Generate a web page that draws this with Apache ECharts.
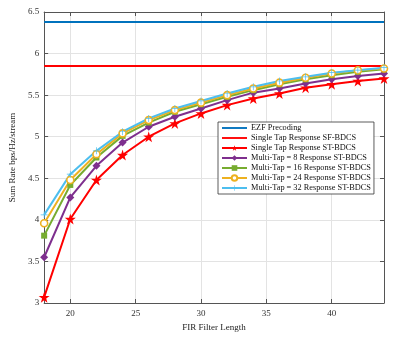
<!DOCTYPE html>
<html>
<head>
<meta charset="utf-8">
<script src="https://cdn.jsdelivr.net/npm/echarts@6/dist/echarts.min.js"></script>
<style>
  html, body { margin: 0; padding: 0; background: #fff; }
  #chart { width: 415px; height: 344px; }
</style>
</head>
<body>
<div id="chart"></div>
<script>
// filter lengths
const filterLen = [18, 20, 22, 24, 26, 28, 30, 32, 34, 36, 38, 40, 42, 44];
const xTicks = [20, 25, 30, 35, 40];

const ezf = 6.38;
const singleSF = 5.85;
const singleST = [3.07, 4.01, 4.48, 4.78, 5.0, 5.16, 5.28, 5.38, 5.46, 5.52, 5.59, 5.63, 5.67, 5.70];
const multi8 = [3.55, 4.27, 4.65, 4.93, 5.12, 5.24, 5.34, 5.44, 5.53, 5.58, 5.64, 5.69, 5.73, 5.76];
const multi16 = [3.81, 4.42, 4.75, 5.01, 5.17, 5.30, 5.39, 5.48, 5.56, 5.63, 5.69, 5.74, 5.78, 5.81];
const multi24 = [3.96, 4.48, 4.79, 5.04, 5.20, 5.32, 5.41, 5.50, 5.58, 5.65, 5.71, 5.76, 5.80, 5.82];
const multi32 = [4.06, 4.55, 4.83, 5.06, 5.22, 5.34, 5.43, 5.52, 5.60, 5.67, 5.72, 5.77, 5.80, 5.83];

const star = "path://M50,0 L61,35 L98,35 L68,57 L79,91 L50,70 L21,91 L32,57 L2,35 L39,35 Z";
const plus = "path://M45,0 L55,0 L55,45 L100,45 L100,55 L55,55 L55,100 L45,100 L45,55 L0,55 L0,45 L45,45 Z";
const bar = "path://M0,0 L40,0 L40,3 L0,3 Z";

const font = "'Liberation Serif', 'Times New Roman', serif";

function pairs(ys) {
  return filterLen.map((x, i) => [x, ys[i]]);
}
function flat(v) {
  return [[filterLen[0], v], [filterLen[filterLen.length - 1], v]];
}

function curve(name, ys, color, symbol, size, filled) {
  return {
    name: name,
    type: "line",
    data: pairs(ys),
    symbol: symbol,
    symbolSize: size,
    showAllSymbol: true,
    lineStyle: { color: color, width: 2 },
    itemStyle: { color: filled ? color : "#fff", borderColor: color, borderWidth: filled ? 0 : 1.6 },
    emphasis: { disabled: true },
  };
}

const chart = echarts.init(document.getElementById("chart"), null, { renderer: "canvas" });

const axisLine = { show: true, lineStyle: { color: "#555", width: 1 } };
const tickStyle = { inside: true, length: 4, lineStyle: { color: "#555" } };

chart.setOption({
  animation: false,
  backgroundColor: "#fff",
  textStyle: { fontFamily: font },
  grid: { left: 42, right: 31, top: 12, bottom: 41, containLabel: false },
  legend: {
    orient: "vertical",
    left: 218,
    top: 122,
    backgroundColor: "#fff",
    borderColor: "#333",
    borderWidth: 0.8,
    padding: [1, 3, 1, 3],
    itemWidth: 25,
    itemHeight: 7,
    itemGap: 0,
    textStyle: { fontFamily: font, fontSize: 8.3, lineHeight: 10, height: 10, color: "#111", padding: [0, 0, 0, -1] },
    data: [
      { name: "EZF Precoding", icon: bar, itemStyle: { color: "#0072BD" } },
      { name: "Single Tap Response SF-BDCS", icon: bar, itemStyle: { color: "#FF0000" } },
      "Single Tap Response ST-BDCS",
      "Multi-Tap = 8 Response ST-BDCS",
      "Multi-Tap = 16 Response ST-BDCS",
      "Multi-Tap = 24 Response ST-BDCS",
      "Multi-Tap = 32 Response ST-BDCS",
    ],
  },
  xAxis: [
    {
      type: "value",
      min: 18,
      max: 44,
      name: "FIR Filter Length",
      nameLocation: "middle",
      nameGap: 17,
      nameTextStyle: { fontFamily: font, fontSize: 9, color: "#222" },
      axisLine: axisLine,
      axisTick: Object.assign({ customValues: xTicks }, tickStyle),
      axisLabel: { customValues: xTicks, fontFamily: font, fontSize: 9, color: "#333", margin: 6 },
      splitLine: { show: true, lineStyle: { color: "#e3e3e3", width: 1 } },
    },
    {
      type: "value",
      position: "top",
      min: 18,
      max: 44,
      axisLine: axisLine,
      axisTick: Object.assign({ customValues: xTicks }, tickStyle),
      axisLabel: { show: false },
      splitLine: { show: false },
    },
  ],
  yAxis: [
    {
      type: "value",
      min: 3,
      max: 6.5,
      interval: 0.5,
      name: "Sum Rate bps/Hz/stream",
      nameLocation: "middle",
      nameGap: 20,
      nameTextStyle: { fontFamily: font, fontSize: 9, color: "#222" },
      axisLine: axisLine,
      axisTick: tickStyle,
      axisLabel: { fontFamily: font, fontSize: 9, color: "#333", margin: 5 },
      splitLine: { show: true, lineStyle: { color: "#e3e3e3", width: 1 } },
    },
    {
      type: "value",
      position: "right",
      min: 3,
      max: 6.5,
      interval: 0.5,
      axisLine: axisLine,
      axisTick: tickStyle,
      axisLabel: { show: false },
      splitLine: { show: false },
    },
  ],
  series: [
    {
      name: "EZF Precoding",
      type: "line",
      data: flat(ezf),
      symbol: "none",
      lineStyle: { color: "#0072BD", width: 2 },
      itemStyle: { color: "#0072BD" },
    },
    {
      name: "Single Tap Response SF-BDCS",
      type: "line",
      data: flat(singleSF),
      symbol: "none",
      lineStyle: { color: "#FF0000", width: 2 },
      itemStyle: { color: "#FF0000" },
    },
    curve("Single Tap Response ST-BDCS", singleST, "#FF0000", star, 11, true),
    curve("Multi-Tap = 8 Response ST-BDCS", multi8, "#7E2F8E", "diamond", 8, true),
    curve("Multi-Tap = 16 Response ST-BDCS", multi16, "#77AC30", "rect", 6, true),
    curve("Multi-Tap = 24 Response ST-BDCS", multi24, "#EDB120", "circle", 7, false),
    curve("Multi-Tap = 32 Response ST-BDCS", multi32, "#4DBEEE", plus, 7, true),
  ],
});
</script>
</body>
</html>
